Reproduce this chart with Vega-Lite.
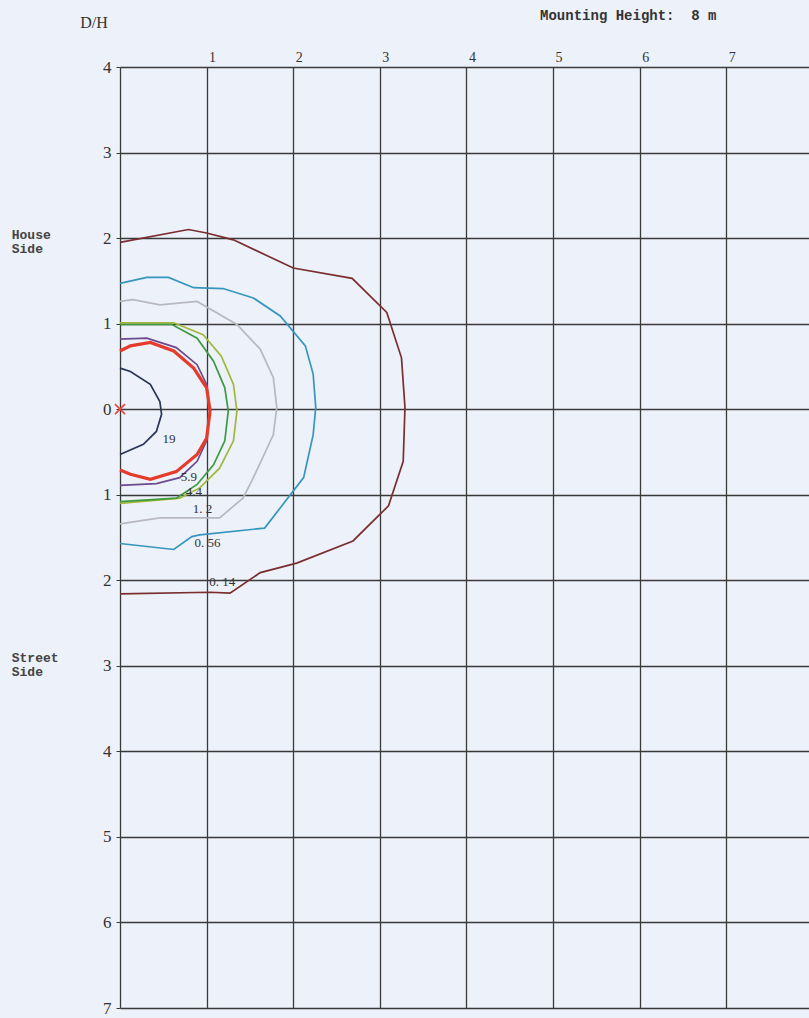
{
  "$schema": "https://vega.github.io/schema/vega-lite/v6.json",
  "width": 689,
  "height": 941,
  "autosize": {"type": "none"},
  "padding": {"left": 120, "top": 67, "right": 0, "bottom": 10},
  "background": "#edf1f9",
  "config": {"view": {"stroke": null}, "font": "Liberation Serif"},
  "datasets": {
    "contours": [
      {"c":"0.14","o":1,"x":0,"y":1.95},{"c":"0.14","o":2,"x":0.79,"y":2.10},{"c":"0.14","o":3,"x":1.0,"y":2.06},{"c":"0.14","o":4,"x":1.31,"y":1.98},{"c":"0.14","o":5,"x":2.0,"y":1.65},{"c":"0.14","o":6,"x":2.68,"y":1.53},{"c":"0.14","o":7,"x":3.08,"y":1.13},{"c":"0.14","o":8,"x":3.25,"y":0.60},{"c":"0.14","o":9,"x":3.29,"y":0.02},{"c":"0.14","o":10,"x":3.27,"y":-0.61},{"c":"0.14","o":11,"x":3.10,"y":-1.13},{"c":"0.14","o":12,"x":2.69,"y":-1.54},{"c":"0.14","o":13,"x":2.04,"y":-1.80},{"c":"0.14","o":14,"x":1.62,"y":-1.91},{"c":"0.14","o":15,"x":1.27,"y":-2.15},{"c":"0.14","o":16,"x":1.04,"y":-2.14},{"c":"0.14","o":17,"x":0,"y":-2.16},
      {"c":"0.56","o":1,"x":0,"y":1.47},{"c":"0.56","o":2,"x":0.31,"y":1.54},{"c":"0.56","o":3,"x":0.56,"y":1.54},{"c":"0.56","o":4,"x":0.85,"y":1.42},{"c":"0.56","o":5,"x":1.19,"y":1.41},{"c":"0.56","o":6,"x":1.54,"y":1.30},{"c":"0.56","o":7,"x":1.85,"y":1.09},{"c":"0.56","o":8,"x":2.14,"y":0.74},{"c":"0.56","o":9,"x":2.23,"y":0.41},{"c":"0.56","o":10,"x":2.26,"y":0.02},{"c":"0.56","o":11,"x":2.23,"y":-0.30},{"c":"0.56","o":12,"x":2.12,"y":-0.80},{"c":"0.56","o":13,"x":1.67,"y":-1.39},{"c":"0.56","o":14,"x":0.92,"y":-1.47},{"c":"0.56","o":15,"x":0.83,"y":-1.49},{"c":"0.56","o":16,"x":0.62,"y":-1.64},{"c":"0.56","o":17,"x":0,"y":-1.57},
      {"c":"1.2","o":1,"x":0,"y":1.26},{"c":"1.2","o":2,"x":0.15,"y":1.28},{"c":"1.2","o":3,"x":0.46,"y":1.22},{"c":"1.2","o":4,"x":0.89,"y":1.26},{"c":"1.2","o":5,"x":1.35,"y":0.99},{"c":"1.2","o":6,"x":1.62,"y":0.70},{"c":"1.2","o":7,"x":1.77,"y":0.37},{"c":"1.2","o":8,"x":1.81,"y":0.02},{"c":"1.2","o":9,"x":1.77,"y":-0.30},{"c":"1.2","o":10,"x":1.54,"y":-0.80},{"c":"1.2","o":11,"x":1.42,"y":-1.04},{"c":"1.2","o":12,"x":1.15,"y":-1.27},{"c":"1.2","o":13,"x":0.46,"y":-1.27},{"c":"1.2","o":14,"x":0,"y":-1.34},
      {"c":"3.5","o":1,"x":0,"y":1.01},{"c":"3.5","o":2,"x":0.62,"y":1.01},{"c":"3.5","o":3,"x":0.96,"y":0.87},{"c":"3.5","o":4,"x":1.17,"y":0.62},{"c":"3.5","o":5,"x":1.31,"y":0.29},{"c":"3.5","o":6,"x":1.35,"y":-0.02},{"c":"3.5","o":7,"x":1.31,"y":-0.37},{"c":"3.5","o":8,"x":1.15,"y":-0.69},{"c":"3.5","o":9,"x":0.92,"y":-0.92},{"c":"3.5","o":10,"x":0.69,"y":-1.04},{"c":"3.5","o":11,"x":0,"y":-1.10},
      {"c":"4.4","o":1,"x":0,"y":0.99},{"c":"4.4","o":2,"x":0.60,"y":0.99},{"c":"4.4","o":3,"x":0.89,"y":0.83},{"c":"4.4","o":4,"x":1.08,"y":0.56},{"c":"4.4","o":5,"x":1.21,"y":0.25},{"c":"4.4","o":6,"x":1.25,"y":-0.02},{"c":"4.4","o":7,"x":1.21,"y":-0.37},{"c":"4.4","o":8,"x":1.08,"y":-0.65},{"c":"4.4","o":9,"x":0.89,"y":-0.88},{"c":"4.4","o":10,"x":0.65,"y":-1.04},{"c":"4.4","o":11,"x":0,"y":-1.08},
      {"c":"5.9","o":1,"x":0,"y":0.82},{"c":"5.9","o":2,"x":0.31,"y":0.83},{"c":"5.9","o":3,"x":0.65,"y":0.72},{"c":"5.9","o":4,"x":0.89,"y":0.52},{"c":"5.9","o":5,"x":1.0,"y":0.29},{"c":"5.9","o":6,"x":1.04,"y":-0.02},{"c":"5.9","o":7,"x":1.0,"y":-0.37},{"c":"5.9","o":8,"x":0.89,"y":-0.61},{"c":"5.9","o":9,"x":0.69,"y":-0.80},{"c":"5.9","o":10,"x":0.42,"y":-0.87},{"c":"5.9","o":11,"x":0,"y":-0.89},
      {"c":"9","o":1,"x":0,"y":0.68},{"c":"9","o":2,"x":0.12,"y":0.74},{"c":"9","o":3,"x":0.35,"y":0.78},{"c":"9","o":4,"x":0.62,"y":0.68},{"c":"9","o":5,"x":0.85,"y":0.48},{"c":"9","o":6,"x":1.0,"y":0.25},{"c":"9","o":7,"x":1.04,"y":-0.02},{"c":"9","o":8,"x":1.0,"y":-0.34},{"c":"9","o":9,"x":0.89,"y":-0.53},{"c":"9","o":10,"x":0.65,"y":-0.73},{"c":"9","o":11,"x":0.35,"y":-0.82},{"c":"9","o":12,"x":0.12,"y":-0.76},{"c":"9","o":13,"x":0,"y":-0.71},
      {"c":"19","o":1,"x":0,"y":0.48},{"c":"19","o":2,"x":0.12,"y":0.44},{"c":"19","o":3,"x":0.35,"y":0.29},{"c":"19","o":4,"x":0.46,"y":0.09},{"c":"19","o":5,"x":0.48,"y":-0.06},{"c":"19","o":6,"x":0.42,"y":-0.26},{"c":"19","o":7,"x":0.27,"y":-0.41},{"c":"19","o":8,"x":0,"y":-0.53}
    ],
    "labels": [
      {"t":"19","x":0.49,"y":-0.35},
      {"t":"5.9","x":0.70,"y":-0.79},
      {"t":"4.4","x":0.76,"y":-0.97},
      {"t":"1. 2","x":0.84,"y":-1.17},
      {"t":"0. 56","x":0.86,"y":-1.56},
      {"t":"0. 14","x":1.03,"y":-2.02}
    ],
    "notes": [
      {"t":"House\nSide","x":-1.25,"y":2.04},
      {"t":"Street\nSide","x":-1.25,"y":-2.91}
    ],
    "mh": [{"t":"Mounting Height:\u00a0\u00a08 m","x":4.85,"y":4.60}],
    "dh": [{"t":"D/H","x":-0.46,"y":4.51}],
    "origin": [{"x":0,"y":0}]
  },
  "layer": [
    {
      "data": {"name": "contours"},
      "mark": {"type": "line", "clip": false},
      "encoding": {
        "x": {"field": "x", "type": "quantitative", "scale": {"domain": [0, 7.955], "nice": false, "zero": false},
          "axis": {"orient": "top", "values": [0,1,2,3,4,5,6,7], "title": null, "domain": false, "ticks": false,
            "labelExpr": "datum.value == 0 ? '' : format(datum.value, 'd')", "labelAlign": "left", "labelOffset": 2, "labelPadding": 3,
            "labelFontSize": 14, "labelColor": "#333", "labelFont": "Liberation Serif",
            "grid": true, "gridColor": "#3a3a3a", "gridWidth": 1.3, "gridOpacity": 1}},
        "y": {"field": "y", "type": "quantitative", "scale": {"domain": [-7, 4], "nice": false, "zero": false},
          "axis": {"values": [-7,-6,-5,-4,-3,-2,-1,0,1,2,3,4], "title": null, "domain": false, "ticks": true, "tickSize": 4, "tickColor": "#3a3a3a",
            "labelExpr": "format(abs(datum.value), 'd')", "labelPadding": 5, "labelFontSize": 17, "labelColor": "#333", "labelFont": "Liberation Serif",
            "grid": true, "gridColor": "#3a3a3a", "gridWidth": 1.7, "gridOpacity": 1}},
        "color": {"field": "c", "type": "nominal", "legend": null,
          "scale": {"domain": ["0.14","0.56","1.2","3.5","4.4","5.9","9","19"],
                    "range": ["#7a2e2e","#3596be","#b8b8c4","#9fb83a","#3d9a3d","#6b4a8e","#e53b2c","#2a3558"]}},
        "detail": {"field": "c"},
        "order": {"field": "o", "type": "quantitative"},
        "strokeWidth": {"condition": {"test": "datum.c === '9'", "value": 3.2}, "value": 1.7}
      }
    },
    {
      "data": {"name": "labels"},
      "mark": {"type": "text", "align": "left", "baseline": "middle", "fontSize": 13, "font": "Liberation Serif", "fill": "#333333", "clip": false},
      "encoding": {
        "x": {"field": "x", "type": "quantitative"},
        "y": {"field": "y", "type": "quantitative"},
        "text": {"field": "t"}
      }
    },
    {
      "data": {"name": "notes"},
      "mark": {"type": "text", "align": "left", "baseline": "middle", "fontSize": 13, "font": "Liberation Mono", "fontWeight": "bold", "fill": "#444444", "lineBreak": "\n", "lineHeight": 14, "clip": false},
      "encoding": {
        "x": {"field": "x", "type": "quantitative"},
        "y": {"field": "y", "type": "quantitative"},
        "text": {"field": "t"}
      }
    },
    {
      "data": {"name": "mh"},
      "mark": {"type": "text", "align": "left", "baseline": "middle", "fontSize": 14, "font": "Liberation Mono", "fontWeight": "bold", "fill": "#333333", "clip": false},
      "encoding": {
        "x": {"field": "x", "type": "quantitative"},
        "y": {"field": "y", "type": "quantitative"},
        "text": {"field": "t"}
      }
    },
    {
      "data": {"name": "dh"},
      "mark": {"type": "text", "align": "left", "baseline": "middle", "fontSize": 16, "font": "Liberation Serif", "fill": "#333333", "clip": false},
      "encoding": {
        "x": {"field": "x", "type": "quantitative"},
        "y": {"field": "y", "type": "quantitative"},
        "text": {"field": "t"}
      }
    },
    {
      "data": {"name": "origin"},
      "mark": {"type": "point", "shape": "M-1,-1L1,1M-1,1L1,-1", "filled": false, "stroke": "#e5473a", "strokeWidth": 1.6, "size": 100, "opacity": 1},
      "encoding": {
        "x": {"field": "x", "type": "quantitative"},
        "y": {"field": "y", "type": "quantitative"}
      }
    }
  ]
}
